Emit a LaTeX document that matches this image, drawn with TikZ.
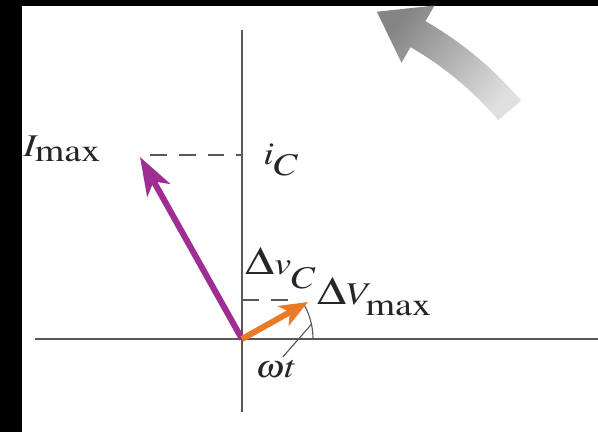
\documentclass[tikz,border=0pt]{standalone}
\usepackage{amsmath,amssymb,tikz,mathptmx}
\usetikzlibrary{arrows.meta,positioning}
\DeclareMathSizes{22.5}{22.5}{22.5}{22.5}
\definecolor{phasorpurple}{RGB}{158,46,145}
\definecolor{phasororange}{RGB}{232,122,40}
\definecolor{axisgray}{RGB}{88,88,88}
\newcommand{\wide}[1]{\scalebox{1.2}[1]{#1}}
\newcommand{\Dlt}{\scalebox{1.25}{$\Delta$}}
\newcommand{\sunk}[2]{_{\lower#1\hbox{$#2$}}}
\tikzset{
  axisline/.style={axisgray, line width=1.2pt},
  guide/.style={axisgray, line width=1.1pt, dash pattern=on 0.42cm off 0.3cm},
  lbl/.style={inner sep=0pt, font=\fontsize{22.5}{26}\selectfont, text=black!85},
  phasor/.style={line width=4.3pt}
}

\begin{document}
\begin{tikzpicture}
            \useasboundingbox (-6.05,-2.325) rectangle (8.9,8.475);
            \fill[black] (-6.05,-2.325) rectangle (8.9,8.475);
            \fill[white] (-5.5,-2.325) rectangle (8.8875,8.325);
            % rotation arrow
            \begin{scope}
              \clip (-5.5,-2.325) rectangle (8.8875,8.325);
              \shade[top color=black!48, bottom color=black!12, shading angle=50]
                (40.5:8.425) arc[start angle=40.5, end angle=60, radius=8.425]
                -- (60:7.975) -- (67.6:8.85) -- (60:9.625) -- (60:9.175)
                arc[start angle=60, end angle=40.5, radius=9.175] -- cycle;
            \end{scope}
            % axes
            \coordinate (O) at (0,0);
            \coordinate (ytop) at (0,7.725);
            \coordinate (ybot) at (0,-1.825);
            \coordinate (xleft) at (-5.175,0);
            \coordinate (xright) at (8.9,0);
            \draw[axisline] (ytop) -- (ybot);
            \draw[axisline] (xleft) -- (xright);
            % phasors
            \coordinate (Itip) at (-2.55,4.55);
            \coordinate (Vtip) at (1.65,0.925);
            \coordinate (iC) at (0,4.6);
            \coordinate (vC) at (0,0.975);
            \draw[guide] (-2.3,4.6) -- (iC);
            \draw[guide] (vC) -- (1.4,0.975);
            \draw[phasor, phasorpurple, -{Stealth[length=0.95cm, width=0.65cm, inset=0.25cm]}] (O) -- (Itip);
            \draw[phasor, phasororange, -{Stealth[length=0.7cm, width=0.55cm, inset=0.18cm]}] (O) -- (Vtip);
            % angle
            \coordinate (tick) at (12:1.775);
            \coordinate (wtend) at (1.02,-0.45);
            \draw[axisgray, line width=0.8pt] (1.775,0) arc[start angle=0, end angle=28, radius=1.775];
            \draw[axisgray, line width=0.8pt] (wtend) -- (tick);
            % labels
            \node[lbl, anchor=base west] (Imax) at (-5.475,4.55) {\wide{$I_{\mathrm{max}}$}};
            \node[lbl, anchor=base west] (ic) at (0.525,4.35) {\wide{$i_C$}};
            \node[lbl, anchor=base west] (dvc) at (0.075,1.6) {\wide{\Dlt$v\sunk{6pt}{C}$}};
            \node[lbl, anchor=base west] (dVmax) at (1.875,0.85) {\wide{\Dlt$V\sunk{4pt}{\mathrm{max}}$}};
            \node[lbl, anchor=base west] (wt) at (0.325,-0.975) {\wide{$\omega t$}};
        \end{tikzpicture}
\end{document}
